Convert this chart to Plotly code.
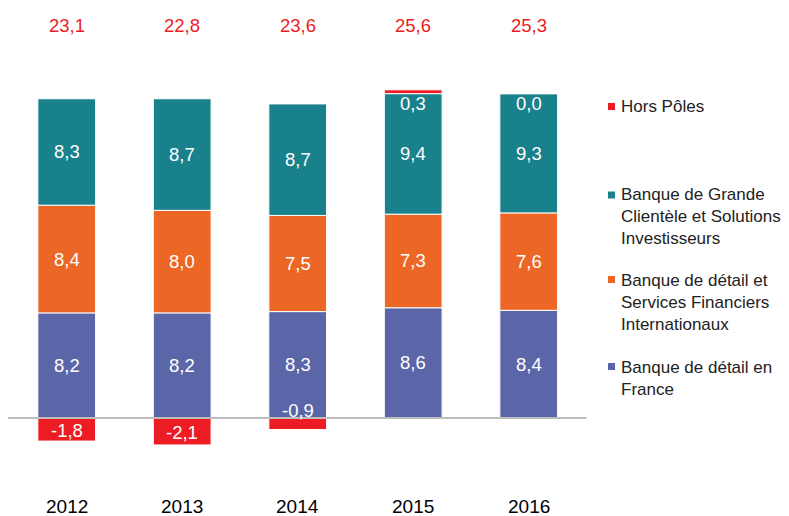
import plotly.graph_objects as go
import numpy as np

years = ["2012", "2013", "2014", "2015", "2016"]
bdf = [8.2, 8.2, 8.3, 8.6, 8.4]          # Banque de détail en France
bdsfi = [8.4, 8.0, 7.5, 7.3, 7.6]        # Banque de détail et SFI
bgcsi = [8.3, 8.7, 8.7, 9.4, 9.3]        # Banque de Grande Clientèle
hors_poles = [-1.8, -2.1, -0.9, 0.3, 0.0]

series_names = [
    "Banque de détail en<br>France",
    "Banque de détail et<br>Services Financiers<br>Internationaux",
    "Banque de Grande<br>Clientèle et Solutions<br>Investisseurs",
    "Hors Pôles",
]
colors = ["#5b66a9", "#ec6726", "#19818b", "#ed1c24"]

FONT = "Liberation Sans, Arial, Helvetica, sans-serif"
OFF = 8                      # page body margin
W, H = 789 - OFF, 516 - OFF


def fmt(v):
    return f"{v:.1f}".replace(".", ",")


def px(xp):
    return (xp - OFF) / W


def py(yp):
    return 1 - (yp - OFF) / H


fig = go.Figure()
series = [bdf, bdsfi, bgcsi, hors_poles]
for vals, name, col in zip(series, series_names, colors):
    fig.add_trace(go.Bar(
        x=years, y=vals, name=name, width=0.5,
        marker=dict(color=col, line=dict(color="white", width=1)),
        showlegend=False, hoverinfo="skip",
    ))

annotations = []
# segment labels for positive stacks
base = np.zeros(len(years))
for vals in [bdf, bdsfi, bgcsi]:
    v = np.array(vals)
    for i, yr in enumerate(years):
        annotations.append(dict(
            x=i, y=base[i] + v[i] / 2, text=fmt(v[i]), showarrow=False,
            font=dict(family=FONT, size=18.5, color="white"),
            xanchor="center", yanchor="middle",
        ))
    base = base + v

# Hors Pôles labels
for i, yr in enumerate(years):
    v = hors_poles[i]
    if v < 0 and abs(v) >= 1.5:
        y, ys = v / 2, -1
    elif v < 0:
        y, ys = 0, 8
    else:
        y, ys = base[i], -10
    annotations.append(dict(
        x=i, y=y, yshift=ys, text=fmt(v), showarrow=False,
        font=dict(family=FONT, size=18.5, color="white"),
        xanchor="center", yanchor="middle",
    ))

# totals and year labels
totals = np.array(bdf) + np.array(bdsfi) + np.array(bgcsi) + np.array(hors_poles)
for i, yr in enumerate(years):
    annotations.append(dict(
        x=i, y=30.65, text=fmt(totals[i]), showarrow=False,
        font=dict(family=FONT, size=18.5, color="#ed1c24"),
        xanchor="center", yanchor="middle",
    ))
    annotations.append(dict(
        x=i, y=-6.9, text=yr, showarrow=False,
        font=dict(family=FONT, size=19, color="black"),
        xanchor="center", yanchor="middle",
    ))

# legend (custom)
legend_items = [
    (3, 106.5, (103, 110)),
    (2, 217, (191.5, 198.5)),
    (1, 302.5, (276, 283)),
    (0, 378, (363, 370)),
]
shapes = []
for idx, cy, (m0, m1) in legend_items:
    annotations.append(dict(
        xref="paper", yref="paper", x=px(619), y=py(cy),
        text=series_names[idx], showarrow=False, align="left",
        xanchor="left", yanchor="middle",
        font=dict(family=FONT, size=17, color="#222222"),
    ))
    shapes.append(dict(
        type="rect", xref="paper", yref="paper",
        x0=px(608), x1=px(615), y0=py(m1), y1=py(m0),
        fillcolor=colors[idx], line=dict(width=0),
    ))

# zero line
shapes.append(dict(
    type="line", xref="x", yref="y", x0=-0.51, x1=4.5, y0=0, y1=0,
    line=dict(color="#bdbdbd", width=2), layer="above",
))

zero_px = 418 - OFF
unit = 12.82
x0_px = 66.7 - OFF
step = 115.5

fig.update_layout(
    width=W, height=H,
    margin=dict(l=0, r=0, t=0, b=0),
    barmode="relative",
    plot_bgcolor="white", paper_bgcolor="white",
    xaxis=dict(visible=False, type="category",
               range=[-x0_px / step, (W - x0_px) / step]),
    yaxis=dict(visible=False,
               range=[-(H - zero_px) / unit, zero_px / unit]),
    annotations=annotations,
    shapes=shapes,
    font=dict(family=FONT),
)

fig.write_html("out.html")
